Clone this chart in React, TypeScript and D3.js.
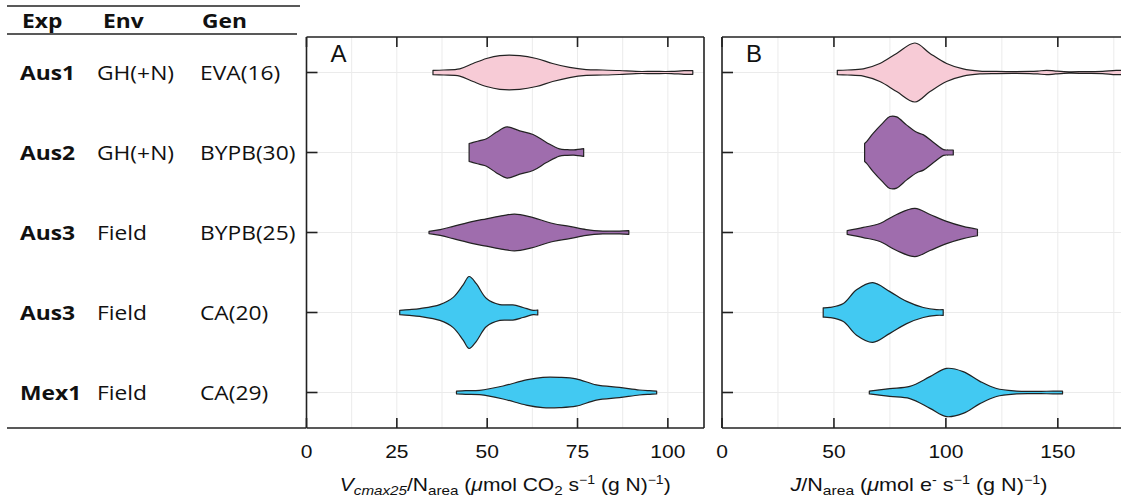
import React from "react";
import * as d3 from "d3";

// ---------- data ----------
const expLabels = ["Aus1", "Aus2", "Aus3", "Aus3", "Mex1"];
const envLabels = ["GH(+N)", "GH(+N)", "Field", "Field", "Field"];
const genLabels = ["EVA(16)", "BYPB(30)", "BYPB(25)", "CA(20)", "CA(29)"];
const genGroup = ["EVA", "BYPB", "BYPB", "CA", "CA"];
const groupColors: Record<string, string> = { EVA: "#F7CBD6", BYPB: "#9F6DAD", CA: "#42C9F2" };

const ticksA = [0, 25, 50, 75, 100];
const ticksB = [0, 50, 100, 150];

// violin density profiles: [value, relative density]
const vcmaxProfiles: [number, number][][] = [
  [[35,0.06],[38,0.07],[42.4,0.1],[46.1,0.25],[49.8,0.39],[53.5,0.47],[59,0.47],[63.6,0.39],[68.1,0.25],[72.8,0.14],[77.4,0.08],[82,0.07],[86.6,0.055],[91.2,0.03],[96,0.03],[101,0.03],[104.5,0.05],[106.9,0.05]],
  [[45,0.25],[46.1,0.28],[48,0.33],[49.8,0.38],[52.5,0.56],[55.5,0.71],[59,0.6],[62.7,0.5],[66.4,0.28],[70,0.1],[72,0.08],[74,0.075],[76.7,0.11]],
  [[33.9,0.03],[37,0.08],[40.6,0.17],[46.1,0.31],[49.8,0.38],[54.4,0.47],[57.6,0.51],[61.7,0.44],[68.2,0.25],[72.8,0.17],[77.4,0.08],[82,0.04],[86.6,0.04],[89.2,0.05]],
  [[25.8,0.06],[28.5,0.08],[31.4,0.11],[36.9,0.22],[40.6,0.42],[43.3,0.76],[45,1.0],[47,0.8],[49.8,0.39],[53.5,0.22],[57.1,0.21],[59.9,0.14],[62.7,0.06],[64,0.07]],
  [[41.5,0.04],[44,0.05],[47.9,0.06],[54.4,0.18],[60.8,0.35],[65.4,0.42],[70,0.42],[74.6,0.38],[80.2,0.21],[86.6,0.14],[92.1,0.07],[95,0.05],[96.9,0.04]],
];

const jProfiles: [number, number][][] = [
  [[51.5,0.06],[56,0.07],[63.1,0.1],[70.5,0.25],[78,0.53],[86.2,0.82],[92.9,0.53],[100.3,0.25],[107.7,0.1],[115.2,0.04],[122.6,0.03],[130,0.025],[137.5,0.03],[141,0.04],[145,0.06],[149,0.04],[155,0.02],[162,0.025],[170,0.03],[176,0.06],[182,0.04]],
  [[63.7,0.25],[64.6,0.3],[67.5,0.53],[72,0.83],[75,1.0],[78,0.99],[82.5,0.76],[87,0.56],[90,0.49],[94.5,0.28],[99,0.08],[101,0.07],[103.3,0.07]],
  [[55.9,0.05],[63.1,0.14],[70.5,0.25],[78,0.5],[86.2,0.67],[92.9,0.5],[100.3,0.31],[107.7,0.17],[114.1,0.09]],
  [[45.2,0.13],[48.2,0.14],[54.2,0.25],[60.1,0.63],[67.3,0.83],[75,0.58],[82.5,0.31],[89.9,0.14],[95.8,0.08],[98.8,0.08]],
  [[65.8,0.04],[75,0.11],[83.9,0.17],[92.9,0.44],[100.3,0.67],[107.7,0.58],[115.2,0.31],[122.6,0.11],[131.6,0.04],[137.5,0.03],[145,0.035],[152.1,0.04]],
];

// ---------- layout ----------
const W = 1121, H = 503;
const top = 37, bottom = 428;
const panelA = { x0: 306.5, x1: 704 };
const panelB = { x0: 722, x1: 1125 };
const TF = "'Liberation Sans', Arial, sans-serif";
const LF = "'Open Sans', 'Liberation Sans', sans-serif";
const grid = "#EBEBEB";
const AXS = 1.17; // horizontal stretch of axis text
const TBS = 1.14; // horizontal stretch of table text

const rowIdx = d3.range(expLabels.length);
const y = d3.scalePoint<number>().domain(rowIdx).range([72.5, 392.5]);
const xA = d3.scaleLinear().domain([0, 110]).range([panelA.x0, panelA.x1]);
const xB = d3.scaleLinear().domain([0, 180]).range([panelB.x0, panelB.x1]);
const wScale = d3.scaleLinear().domain([0, 1]).range([0, 36]);

function ST({ x, y, s, children, ...rest }: any) {
  return (
    <text transform={`translate(${x},${y}) scale(${s},1)`} {...rest}>
      {children}
    </text>
  );
}

function Panel({ x, ticks, minor, profiles, letter, id, rightBorder }: any) {
  const [x0, x1] = x.range();
  const area = (cy: number) =>
    d3.area<[number, number]>()
      .x((d) => x(d[0]))
      .y0((d) => cy + wScale(d[1]))
      .y1((d) => cy - wScale(d[1]))
      .curve(d3.curveCatmullRom.alpha(0.5));
  return (
    <g>
      <defs>
        <clipPath id={id}>
          <rect x={x0} y={top} width={x1 - x0} height={bottom - top} />
        </clipPath>
      </defs>
      <g clipPath={`url(#${id})`}>
        {minor.map((t: number) => (
          <line key={"g" + t} x1={x(t)} x2={x(t)} y1={top} y2={bottom} stroke={grid} strokeWidth={1} />
        ))}
        {rowIdx.map((i) => (
          <line key={"h" + i} x1={x0} x2={x1} y1={y(i)} y2={y(i)} stroke={grid} strokeWidth={1.2} />
        ))}
        {profiles.map((p: [number, number][], i: number) => (
          <path key={i} d={area(y(i)!)(p)!} fill={groupColors[genGroup[i]]} stroke="#222" strokeWidth={1.2} strokeLinejoin="round" />
        ))}
      </g>
      <line x1={x0} x2={x0} y1={top} y2={bottom} stroke="#222" strokeWidth={1.6} />
      <line x1={x0} x2={x1} y1={top} y2={top} stroke="#222" strokeWidth={1.6} />
      <line x1={x0} x2={x1} y1={bottom} y2={bottom} stroke="#222" strokeWidth={1.6} />
      {rightBorder && <line x1={x1} x2={x1} y1={top} y2={bottom} stroke="#222" strokeWidth={1.6} />}
      {ticks.map((t: number) => (
        <g key={"t" + t}>
          <line x1={x(t)} x2={x(t)} y1={top} y2={top + 10} stroke="#222" strokeWidth={1.6} />
          <line x1={x(t)} x2={x(t)} y1={bottom} y2={bottom - 10} stroke="#222" strokeWidth={1.6} />
          <ST x={x(t)} y={458} s={1.2} textAnchor="middle" fontFamily={TF} fontSize={17.5} fill="#111">{t}</ST>
        </g>
      ))}
      {rowIdx.map((i) => (
        <line key={"yt" + i} x1={x0} x2={x0 + 11} y1={y(i)} y2={y(i)} stroke="#222" strokeWidth={1.6} />
      ))}
      <text x={x0 + 24} y={62} fontFamily={TF} fontSize={24} fill="#111">{letter}</text>
    </g>
  );
}

export default function App() {
  const minorA = d3.range(0, 111, 12.5);
  const minorB = d3.range(0, 181, 25);
  const sub = 13, sup = 12;
  return (
    <svg width={W} height={H} style={{ position: "absolute", left: 0, top: 0 }}>
      <rect width={W} height={H} fill="white" />
      {/* table */}
      <line x1={7} x2={300} y1={6} y2={6} stroke="#222" strokeWidth={1.5} />
      <line x1={7} x2={297} y1={34} y2={34} stroke="#222" strokeWidth={1.5} />
      <line x1={7} x2={306} y1={428} y2={428} stroke="#222" strokeWidth={1.5} />
      <g fontFamily={LF} fontSize={20} fill="#111">
        <ST x={22} y={28} s={TBS} fontWeight="bold">Exp</ST>
        <ST x={103} y={28} s={TBS} fontWeight="bold">Env</ST>
        <ST x={202} y={28} s={TBS} fontWeight="bold">Gen</ST>
        {rowIdx.map((i) => (
          <g key={i}>
            <ST x={20} y={y(i)! + 7} s={TBS} fontWeight="bold">{expLabels[i]}</ST>
            <ST x={97} y={y(i)! + 7} s={TBS}>{envLabels[i]}</ST>
            <ST x={200} y={y(i)! + 7} s={TBS}>{genLabels[i]}</ST>
          </g>
        ))}
      </g>
      <Panel x={xA} ticks={ticksA} minor={minorA} profiles={vcmaxProfiles} letter="A" id="clipA" rightBorder />
      <Panel x={xB} ticks={ticksB} minor={minorB} profiles={jProfiles} letter="B" id="clipB" rightBorder={false} />
      {/* axis titles */}
      <ST x={(panelA.x0 + panelA.x1) / 2} y={491} s={AXS} textAnchor="middle" fontFamily={TF} fontSize={18} fill="#111">
        <tspan fontStyle="italic">V</tspan>
        <tspan fontStyle="italic" fontSize={sub} dy={4}>cmax25</tspan>
        <tspan dy={-4}>/N</tspan>
        <tspan fontSize={sub} dy={4}>area</tspan>
        <tspan dy={-4}> (</tspan>
        <tspan fontStyle="italic">μ</tspan>
        <tspan>mol CO</tspan>
        <tspan fontSize={sub} dy={4}>2</tspan>
        <tspan dy={-4}> s</tspan>
        <tspan fontSize={sup} dy={-7}>−1</tspan>
        <tspan dy={7}> (g N)</tspan>
        <tspan fontSize={sup} dy={-7}>−1</tspan>
        <tspan dy={7}>)</tspan>
      </ST>
      <ST x={919} y={491} s={1.2} textAnchor="middle" fontFamily={TF} fontSize={18} fill="#111">
        <tspan fontStyle="italic">J</tspan>
        <tspan>/N</tspan>
        <tspan fontSize={sub} dy={4}>area</tspan>
        <tspan dy={-4}> (</tspan>
        <tspan fontStyle="italic">μ</tspan>
        <tspan>mol e</tspan>
        <tspan fontSize={sup} dy={-7}>-</tspan>
        <tspan dy={7}> s</tspan>
        <tspan fontSize={sup} dy={-7}>−1</tspan>
        <tspan dy={7}> (g N)</tspan>
        <tspan fontSize={sup} dy={-7}>−1</tspan>
        <tspan dy={7}>)</tspan>
      </ST>
    </svg>
  );
}
